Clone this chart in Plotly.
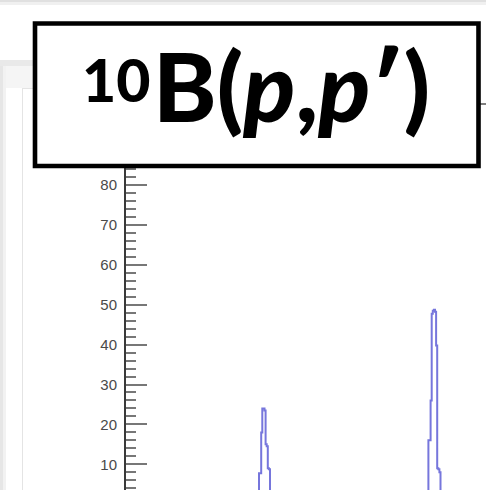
import plotly.graph_objects as go

# ---- data -------------------------------------------------------------
# Spectrum in channel units; counts listed for the two excited-state peaks,
# everything else in the spectrum sits at zero.
n_channels = 330
peak1_start = 119
peak1_counts = [2, 3, 7.75, 7.75, 18, 24, 24, 23.5, 15, 14.5, 9, 8.75, 3, 1]
peak2_start = 273
peak2_counts = [2, 3, 16, 16, 26, 47.75, 48.5, 48.75, 48.25, 39.75, 9, 8.75, 8, 3, 1]

y_ticks = [10, 20, 30, 40, 50, 60, 70, 80]
mass_number = "10"
reaction_text = "B(<i>p</i>,<i>p</i>′)"

counts = [0.0] * n_channels
for start, vals in ((peak1_start, peak1_counts), (peak2_start, peak2_counts)):
    for i, v in enumerate(vals):
        counts[start + i] = v

edges = list(range(n_channels + 1))
xs = edges
ys = counts + [counts[-1]]

# ---- geometry helpers (pixel -> paper) ---------------------------------
W, H = 486, 490
L, T = 126, 104
PW, PH = W - L, H - T


def px(x):
    return (x - L) / PW


def py(y):
    return (H - y) / PH


fig = go.Figure()
fig.add_trace(go.Scatter(
    x=xs, y=ys, mode="lines", line_shape="hv",
    line=dict(color="rgba(80,80,210,0.78)", width=2),
    hoverinfo="skip", showlegend=False,
))

shapes = []
# faint window / pad decoration around the canvas
shapes += [
    dict(type="rect", xref="paper", yref="paper", x0=px(0), x1=px(W), y0=py(0), y1=py(2),
         fillcolor="#e0e0e0", line_width=0, layer="below"),
    dict(type="rect", xref="paper", yref="paper", x0=px(0), x1=px(W), y0=py(2), y1=py(5),
         fillcolor="#f0f0f0", line_width=0, layer="below"),
    dict(type="rect", xref="paper", yref="paper", x0=px(0), x1=px(34), y0=py(60), y1=py(66),
         fillcolor="#e9e9e9", line_width=0, layer="below"),
    dict(type="rect", xref="paper", yref="paper", x0=px(0), x1=px(34), y0=py(66), y1=py(88),
         fillcolor="#f5f5f5", line_width=0, layer="below"),
    dict(type="rect", xref="paper", yref="paper", x0=px(0), x1=px(3), y0=py(66), y1=py(H),
         fillcolor="#e6e6e6", line_width=0, layer="below"),
    dict(type="rect", xref="paper", yref="paper", x0=px(3), x1=px(6), y0=py(66), y1=py(H),
         fillcolor="#f2f2f2", line_width=0, layer="below"),
    dict(type="line", xref="paper", yref="paper", x0=px(22.5), x1=px(22.5), y0=py(88), y1=py(H),
         line=dict(color="#e4e4e4", width=1), layer="below"),
    dict(type="line", xref="paper", yref="paper", x0=px(22.5), x1=px(34), y0=py(88.5), y1=py(88.5),
         line=dict(color="#e4e4e4", width=1), layer="below"),
]
# frame top edge
shapes.append(dict(type="line", xref="paper", yref="paper", x0=0, x1=1, y0=1, y1=1,
                   line=dict(color="#555555", width=1.5), layer="above"))
# title box
shapes.append(dict(type="rect", xref="paper", yref="paper",
                   x0=px(35), x1=px(478.5), y0=py(23.5), y1=py(166),
                   fillcolor="white", line=dict(color="black", width=4.6), layer="above"))

title_font = dict(family="Lato", color="black", weight=900)

fig.update_layout(
    width=W, height=H,
    margin=dict(l=L, r=0, t=T, b=0, pad=0),
    paper_bgcolor="white", plot_bgcolor="white",
    showlegend=False,
    shapes=shapes,
    annotations=[
        dict(text=mass_number, xref="paper", yref="paper",
             x=px(80), y=py(79), xanchor="left", yanchor="middle",
             showarrow=False, font=dict(size=59, **title_font)),
        dict(text=reaction_text, xref="paper", yref="paper",
             x=px(151), y=py(84), xanchor="left", yanchor="middle",
             showarrow=False, font=dict(size=96, **title_font)),
    ],
    xaxis=dict(range=[0.09, 0.09 + PW / 1.1], visible=False, showgrid=False, zeroline=False),
    yaxis=dict(
        range=[3.56, 100.3],
        tickvals=y_ticks, ticktext=[str(v) for v in y_ticks],
        ticks="inside", ticklen=21, tickwidth=1.5, tickcolor="#777777",
        showline=True, linecolor="#3a3a3a", linewidth=2,
        showgrid=False, zeroline=False,
        tickfont=dict(family="Liberation Sans, Arial, sans-serif", size=15, color="#4a4a4a"),
        ticklabelstandoff=4,
        minor=dict(dtick=2, tick0=0, ticks="inside", ticklen=10, tickwidth=1.5,
                   tickcolor="#777777", showgrid=False),
    ),
)

fig.write_html("out.html")
